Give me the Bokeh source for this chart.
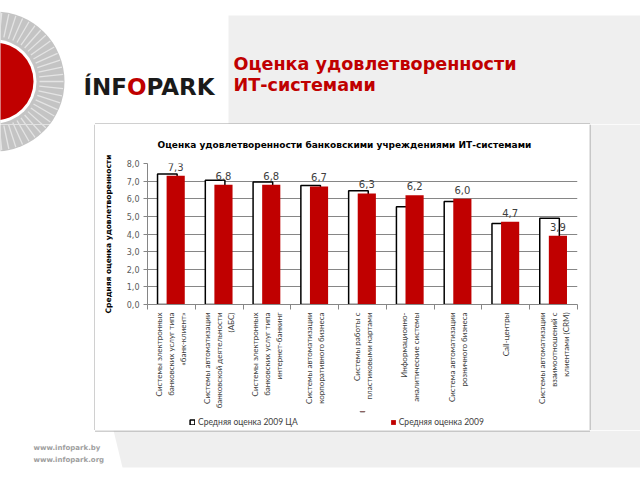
import numpy as np
from bokeh.plotting import figure
from bokeh.layouts import column, row
from bokeh.models import (Range1d, ColumnDataSource, LabelSet, FixedTicker, Legend,
                          LegendItem)
from bokeh.core.properties import value
from bokeh.embed import file_html
from bokeh.resources import INLINE

# ---------------- data ----------------
categories = [
    "Системы электронных\nбанковских услуг типа\n«банк-клиент»",
    "Системы автоматизации\nбанковской деятельности\n(АБС)",
    "Системы электронных\nбанковских услуг типа\nинтернет-банкинг",
    "Системы автоматизации\nкорпоративного бизнеса",
    "Системы работы с\nпластиковыми картами",
    "Информационно-\nаналитические системы",
    "Система автоматизации\nрозничного бизнеса",
    "Call-центры",
    "Системы автоматизации\nвзаимоотношений с\nклиентами (CRM)",
]
score_ca_2009 = [7.4, 7.05, 6.95, 6.75, 6.45, 5.55, 5.85, 4.6, 4.9]
score_2009 = [7.3, 6.8, 6.8, 6.7, 6.3, 6.2, 6.0, 4.7, 3.9]
series_names = ["Средняя оценка 2009 ЦА", "Средняя оценка 2009"]
y_ticks = [0, 1, 2, 3, 4, 5, 6, 7, 8]
chart_title = "Оценка удовлетворенности банковскими учреждениями ИТ-системами"
y_label = "Средняя оценка удовлетворенности"
slide_title = ["Оценка удовлетворенности", "ИТ-системами"]
logo_parts = ["ÍNF", "O", "PARK"]
footer = ["www.infopark.by", "www.infopark.org"]

RED = "#c00000"
GRID = "#868686"
BG = "#efefef"
BOX = "#a0a0a0"

n = len(categories)

# layout in reference-picture pixels
X0, X1, Y0, Y1 = 0, 640, 0, 480
BX0, BX1, BY0, BY1 = 95, 589, 124, 430   # chart box
FL, FR, FT, FB = 147, 577, 162, 305      # plot frame
LEG_Y = 411                               # top of legend strip


def deco_fig(x0, x1, y0, y1):
    return figure(width=x1 - x0, height=y1 - y0, output_backend="svg", toolbar_location=None,
                  x_range=Range1d(x0, x1), y_range=Range1d(y1, y0),
                  x_axis_type=None, y_axis_type=None, min_border=0, align="start",
                  background_fill_color="white", border_fill_color="white",
                  outline_line_color=None)


def logo_circle(f):
    cx, cy = -6, 81
    f.circle(x=[cx], y=[cy], radius=[70], fill_color="#c4c4c4", line_color=None)
    a = np.deg2rad(np.arange(-84, 85, 6))
    f.segment(x0=cx + 45 * np.cos(a), y0=cy + 45 * np.sin(a),
              x1=cx + 69 * np.cos(a), y1=cy + 69 * np.sin(a),
              line_color="#e4e4e4", line_width=1.3)
    f.circle(x=[cx], y=[cy], radius=[42], fill_color="white", line_color=None)
    f.circle(x=[cx], y=[cy], radius=[39], fill_color=RED, line_color=None)


# ---------------- header ----------------
head = deco_fig(X0, X1, Y0, BY0)
head.patch(x=[228, X1, X1, 228], y=[15, 15, BY0, BY0], fill_color=BG, line_color=None)
logo_circle(head)
head.text(x=[83, 126.5, 146], y=[86, 86, 86], text=logo_parts,
          text_color=["#1a1a1a", RED, "#1a1a1a"], text_font=value("DejaVu Sans"),
          text_font_style=value("bold"), text_font_size=value("23px"),
          text_baseline="alphabetic", text_align="left")
head.text(x=[233, 233], y=[63, 84], text=slide_title, text_color=RED,
          text_font=value("DejaVu Sans"), text_font_style=value("bold"),
          text_font_size=value("17.6px"), text_baseline="alphabetic", text_align="left")
head.segment(x0=[BX0 - 0.5], y0=[BY0 - 0.5], x1=[BX1 + 0.5], y1=[BY0 - 0.5],
             line_color=BOX, line_width=1)

# ---------------- left / right sides ----------------
left = deco_fig(X0, BX0, BY0, BY1)
logo_circle(left)
left.segment(x0=[BX0 - 0.5], y0=[BY0], x1=[BX0 - 0.5], y1=[BY1], line_color=BOX, line_width=1)

right = deco_fig(BX1, X1, BY0, BY1)
right.patch(x=[BX1, X1, X1, BX1], y=[BY0, BY0, BY1, BY1], fill_color=BG, line_color=None)
right.segment(x0=[BX1 + 0.5], y0=[BY0], x1=[BX1 + 0.5], y1=[BY1], line_color=BOX, line_width=1)

# ---------------- footer ----------------
foot = deco_fig(X0, X1, BY1, Y1)
foot.patch(x=[113, X1, X1, 122], y=[BY1, BY1, 467, 467], fill_color=BG, line_color=None)
foot.segment(x0=[BX0 - 0.5], y0=[BY1 + 0.5], x1=[BX1 + 0.5], y1=[BY1 + 0.5],
             line_color=BOX, line_width=1)
foot.text(x=[33, 33], y=[447, 459], text=footer, text_color="#a0a0a0",
          text_font=value("DejaVu Sans"), text_font_style=value("bold"),
          text_font_size=value("7px"), text_baseline="middle", text_align="left")

# ---------------- chart ----------------
p = figure(width=BX1 - BX0, height=LEG_Y - BY0, output_backend="svg",
           toolbar_location=None, align="start",
           x_range=Range1d(0, n), y_range=Range1d(0, y_ticks[-1]),
           min_border_left=FL - BX0, min_border_right=BX1 - FR,
           min_border_top=FT - BY0, min_border_bottom=LEG_Y - FB,
           background_fill_color="white", border_fill_color="white", outline_line_color=None)

p.title.text = chart_title
p.title.align = "left"
p.title.offset = 10
p.title.standoff = 27
p.title.text_font = "DejaVu Sans"
p.title.text_font_style = "bold"
p.title.text_font_size = "9px"
p.title.text_color = "black"

xc = np.arange(n) + 0.5
src = ColumnDataSource(dict(
    x_ca=xc - 0.085, x_cur=xc + 0.09, ca=score_ca_2009, cur=score_2009,
    lbl=[f"{v:.1f}".replace(".", ",") for v in score_2009],
))
r1 = p.vbar(x="x_ca", top="ca", width=0.41, source=src, fill_color="white",
            line_color="black", line_width=1.5)
r2 = p.vbar(x="x_cur", top="cur", width=0.38, source=src, fill_color=RED, line_color=None)

p.add_layout(LabelSet(x="x_cur", y="cur", text="lbl", source=src, y_offset=5,
                      text_align="center", text_baseline="bottom",
                      text_font=value("DejaVu Sans"), text_font_size=value("10px"),
                      text_color="#404040"))

# x axis: labels at category centres, tick marks (minor) at category boundaries
p.xaxis.ticker = FixedTicker(ticks=list(xc), minor_ticks=list(range(n + 1)))
p.xaxis.major_label_overrides = {float(x): c for x, c in zip(xc, categories)}
p.xaxis.major_label_orientation = np.pi / 2
p.xaxis.major_label_text_font = "Lato"
p.xaxis.major_label_text_font_size = "8px"
p.xaxis.major_label_text_color = "#404040"
p.xaxis.major_label_standoff = 3
p.xaxis.major_tick_line_color = None
p.xaxis.major_tick_in = 0
p.xaxis.major_tick_out = 5
p.xaxis.minor_tick_in = 0
p.xaxis.minor_tick_out = 5
p.xaxis.minor_tick_line_color = GRID
p.xaxis.axis_line_color = GRID

p.yaxis.ticker = FixedTicker(ticks=y_ticks)
p.yaxis.major_label_overrides = {t: f"{t},0" for t in y_ticks}
p.yaxis.major_label_text_font = "DejaVu Sans"
p.yaxis.major_label_text_font_size = "8px"
p.yaxis.major_label_text_color = "#595959"
p.yaxis.major_label_standoff = 4
p.yaxis.major_tick_in = 0
p.yaxis.major_tick_out = 4
p.yaxis.minor_tick_in = 0
p.yaxis.minor_tick_out = 0
p.yaxis.axis_line_color = GRID
p.yaxis.major_tick_line_color = GRID
p.yaxis.axis_label = y_label
p.yaxis.axis_label_text_font = "DejaVu Sans"
p.yaxis.axis_label_text_font_style = "bold"
p.yaxis.axis_label_text_font_size = "7.5px"
p.yaxis.axis_label_text_color = "black"
p.yaxis.axis_label_standoff = 11

p.ygrid.ticker = FixedTicker(ticks=y_ticks)
p.ygrid.grid_line_color = GRID
p.xgrid.visible = False

# ---------------- legend strip (bottom of chart box) ----------------
leg = figure(width=BX1 - BX0, height=BY1 - LEG_Y, output_backend="svg",
             toolbar_location=None, align="start",
             x_range=Range1d(0, 1), y_range=Range1d(0, 1),
             x_axis_type=None, y_axis_type=None, min_border=0,
             background_fill_color="white", border_fill_color="white",
             outline_line_color=None)
# swatch renderers, placed above the strip's visible range
g1 = leg.vbar(x=[0.5], bottom=[10], top=[11], width=0.01, fill_color="white",
              line_color="black", line_width=1.5)
g2 = leg.vbar(x=[0.5], bottom=[10], top=[11], width=0.01, fill_color=RED, line_color=None)
legend = Legend(items=[LegendItem(label=series_names[0], renderers=[g1]),
                       LegendItem(label=series_names[1], renderers=[g2])],
                orientation="horizontal", location=(42, 3),
                glyph_width=6, glyph_height=6, label_height=9,
                label_text_font="Lato", label_text_font_size="8.5px",
                label_text_color="#404040", spacing=92, label_standoff=3,
                padding=0, margin=0, border_line_color=None, background_fill_alpha=0)
leg.add_layout(legend)

layout = column(head, row(left, column(p, leg), right), foot)
open("out.html", "w", encoding="utf-8").write(file_html(layout, INLINE))
